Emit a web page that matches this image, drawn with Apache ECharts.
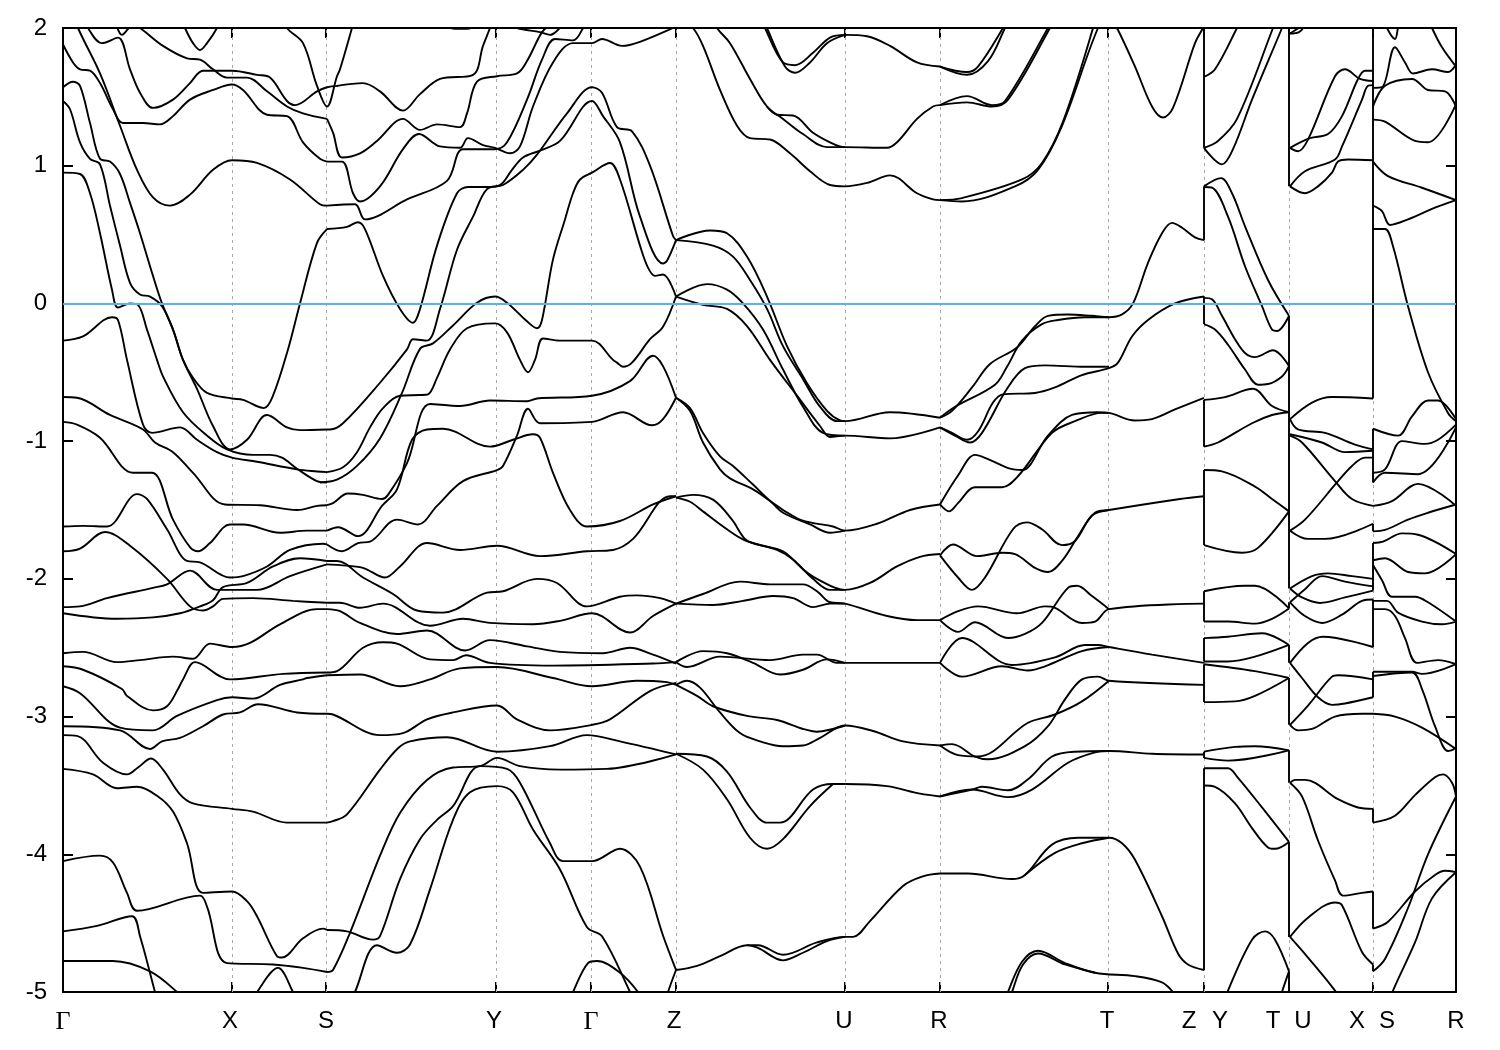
<!DOCTYPE html>
<html><head><meta charset="utf-8">
<style>html,body{margin:0;background:#fff}#c{width:1500px;height:1050px}</style>
<script src="https://cdn.jsdelivr.net/npm/echarts@6/dist/echarts.min.js"></script>
</head><body><div id="c"></div>
<script>
const tickK=[169,263,433,528,613,782,877,1045,1141,1226,1310];
const labelK=[0,167,263,431,528,611,781,876,1044,1126,1157,1210,1240,1294,1324,1393];
const labelText=['Γ','X','S','Y','Γ','Z','U','R','T','Z','Y','T','U','X','S','R'];
// Γ–X–S
const a1=[[0,1.88],[10,1.75],[17,1.70],[27,1.69],[37,1.60],[50,1.41],[60,1.31],[80,1.31],[97,1.30],[110,1.36],[127,1.48],[150,1.55],[169,1.59],[180,1.55],[204,1.37],[224,1.36],[240,1.17],[257,1.05],[264,1.03]];
const a2=[[20,2.1],[25,2.0],[39,1.89],[55,1.93],[67,1.70],[77,1.53],[90,1.42],[110,1.48],[127,1.60],[140,1.69],[169,1.69],[194,1.66],[207,1.64],[224,1.47],[232,1.44],[254,1.54],[264,1.57],[275,1.58]];
const a3=[[52,2.06],[59,1.95],[70,2.02],[77,2.0],[100,1.87],[124,1.78],[137,1.77],[150,1.70],[164,1.64],[184,1.64],[204,1.54],[224,1.43],[240,1.38],[264,1.34]];
const a4=[[118,2.08],[122,2.0],[130,1.89],[137,1.84],[144,1.89],[154,2.0],[158,2.08]];
const a5=[[219,2.1],[224,2.0],[240,1.89],[254,1.58],[264,1.43],[274,1.65],[277,1.70],[289,2.0],[292,2.08]];
const a6=[[8,2.15],[15,2.0],[37,1.67],[57,1.29],[74,.97],[90,.77],[107,.71],[127,.79],[150,.97],[169,1.04],[194,1.02],[227,.90],[257,.72],[264,.71]];
const a7=[[0,.95],[17,.94],[27,.80],[37,.51],[49,.10],[55,-.03],[67,.00],[75,-.01],[84,-.19],[94,-.41],[100,-.53],[120,-.79],[144,-.96],[164,-1.06],[190,-1.10],[207,-1.10],[219,-1.12],[234,-1.20],[254,-1.29],[264,-1.30]];
const a8=[[0,-.27],[20,-.24],[49,-.10],[55,-.12],[64,-.41],[80,-.88],[89,-.94],[117,-.90],[134,-.99],[154,-1.08],[169,-1.12],[194,-1.15],[234,-1.205],[254,-1.22],[264,-1.225]];
const a9=[[0,1.57],[10,1.61],[17,1.58],[27,1.31],[37,1.05],[47,1.03],[57,.94],[67,.73],[77,.51],[90,.20],[99,.00],[110,-.19],[120,-.41],[134,-.62],[150,-.89],[167,-1.06],[184,-.99],[204,-.81],[224,-.90],[237,-.92],[264,-.915]];
const a10=[[0,1.47],[7,1.41],[17,1.17],[27,1.05],[37,1.01],[47,.71],[57,.42],[67,.15],[77,.065],[87,.05],[99,-.02],[110,-.19],[120,-.41],[130,-.54],[144,-.65],[169,-.69],[180,-.70],[201,-.76],[210,-.67],[225,-.334],[237,0],[254,.44],[264,.54]];
const a11=[[0,-.68],[14,-.685],[47,-.81],[80,-.915],[92,-1.01],[110,-1.08],[130,-1.23],[162,-1.46],[197,-1.465],[234,-1.50],[254,-1.47],[264,-1.465]];
const a12=[[0,-.86],[14,-.88],[37,-.975],[70,-1.23],[89,-1.23],[110,-1.57],[127,-1.77],[135,-1.80],[147,-1.74],[167,-1.605],[180,-1.605],[217,-1.665],[244,-1.65],[264,-1.65]];
const a13=[[0,-1.62],[20,-1.615],[44,-1.62],[74,-1.385],[84,-1.42],[104,-1.64],[124,-1.87],[137,-1.88],[167,-1.99],[180,-1.98],[204,-1.91],[227,-1.79],[260,-1.745],[264,-1.75]];
const a14=[[0,-1.80],[17,-1.78],[42,-1.66],[67,-1.76],[104,-2.0],[127,-2.20],[140,-2.23],[150,-2.20],[160,-2.145],[190,-2.14],[230,-2.16],[264,-2.174]];
const a15=[[0,-2.205],[17,-2.20],[44,-2.14],[90,-2.065],[104,-2.04],[127,-1.94],[154,-2.08],[194,-2.08],[227,-1.98],[264,-1.895]];
const a16=[[0,-2.25],[54,-2.29],[90,-2.28],[117,-2.25],[137,-2.20],[150,-2.155],[160,-2.06],[184,-2.03],[210,-1.91],[237,-1.85],[264,-1.87]];
const a17=[[0,-2.54],[20,-2.53],[54,-2.605],[77,-2.59],[110,-2.565],[130,-2.58],[147,-2.47],[169,-2.495],[187,-2.465],[217,-2.33],[254,-2.22],[264,-2.22]];
const a18=[[0,-2.635],[20,-2.66],[59,-2.80],[64,-2.85],[90,-2.955],[104,-2.925],[115,-2.80],[120,-2.73],[132,-2.605],[167,-2.73],[220,-2.69],[264,-2.68]];
const a19=[[0,-2.78],[17,-2.83],[57,-3.08],[90,-3.10],[114,-2.995],[154,-2.88],[169,-2.86],[190,-2.87],[217,-2.77],[240,-2.73],[244,-2.72],[264,-2.70]];
const a20=[[0,-3.07],[57,-3.10],[87,-3.235],[99,-3.18],[117,-3.155],[140,-3.07],[160,-2.985],[177,-2.97],[195,-2.91],[234,-2.97],[264,-2.98]];
const a21=[[0,-3.135],[14,-3.14],[40,-3.335],[64,-3.42],[75,-3.37],[88,-3.305],[100,-3.385],[117,-3.565],[130,-3.63],[169,-3.67],[190,-3.69],[224,-3.77],[264,-3.77]];
const a22=[[0,-3.38],[30,-3.42],[54,-3.52],[74,-3.51],[95,-3.58],[110,-3.69],[124,-3.92],[140,-4.28],[169,-4.27],[184,-4.34],[194,-4.45],[214,-4.74],[219,-4.75],[240,-4.61],[260,-4.54],[264,-4.55]];
const a23=[[0,-4.05],[37,-4.01],[50,-4.06],[64,-4.28],[74,-4.41],[137,-4.30],[144,-4.38],[164,-4.79],[210,-4.80],[240,-4.825],[264,-4.855]];
const a24=[[0,-4.56],[34,-4.52],[69,-4.45],[77,-4.595],[92,-5.0],[94,-5.05]];
const a25=[[0,-4.775],[50,-4.775],[87,-4.85],[114,-5.0],[120,-5.06]];
const a26=[[191,-5.06],[194,-5.0],[215,-4.825],[230,-5.0],[233,-5.06]];
// S–Y–Γ–Z
const b1=[[264,1.03],[279,1.03],[290,.80],[297,.74],[317,.85],[340,1.12],[356,1.23],[377,1.14],[397,1.13],[405,1.20],[420,1.15],[432,1.13],[447,1.09],[457,1.14],[470,1.43],[490,1.75],[510,1.89],[529,1.89],[539,1.92],[559,1.87],[577,1.90],[610,2.00],[615,2.02],[622,2.03]];
const b2=[[274,1.58],[300,1.60],[317,1.54],[340,1.40],[357,1.52],[377,1.63],[410,1.66],[420,1.87],[427,2.00],[432,2.1]];
const b3=[[264,1.34],[270,1.24],[279,1.06],[297,1.09],[314,1.18],[340,1.34],[357,1.26],[374,1.30],[397,1.28],[404,1.38],[414,1.61],[434,1.65],[454,1.67],[464,1.76],[479,1.97],[487,2.02]];
const b4=[[450,2.03],[454,2.0],[477,1.97],[487,1.95],[497,2.0],[500,2.03]];
const b5=[[380,2.02],[392,1.995],[404,1.995],[416,2.02]];
const b6=[[264,.71],[292,.72],[302,.61],[344,.755],[384,.89],[400,1.12],[432,1.12],[444,1.17],[464,1.48],[479,1.77],[492,1.92],[510,1.91],[520,2.0],[524,2.08]];
const b7=[[257,-1.30],[274,-1.28],[294,-1.18],[317,-.98],[339,-.65],[357,-.33],[370,-.29],[390,-.16],[414,.005],[432,.05],[444,.005],[464,-.13],[474,-.18],[479,-.12],[490,.32],[502,.61],[510,.80],[517,.90],[529,.95],[547,1.02],[557,.90],[577,.42],[585,.26],[592,.20],[600,.21],[613,.05]];
const b8=[[264,-1.225],[280,-1.19],[294,-1.08],[307,-.90],[320,-.76],[337,-.67],[357,-.665],[365,-.66],[374,-.54],[387,-.334],[404,-.18],[432,-.145],[444,-.21],[457,-.41],[465,-.50],[472,-.41],[480,-.255],[497,-.27],[529,-.27],[550,-.41],[554,-.43],[560,-.46],[569,-.43],[587,-.26],[600,-.17],[613,.05]];
const b9=[[264,-.915],[267,-.915],[280,-.87],[317,-.576],[344,-.334],[350,-.26],[364,-.27],[377,-.04],[394,.39],[410,.63],[424,.83],[440,.86],[460,.97],[474,1.08],[504,1.38],[529,1.57],[539,1.53],[554,1.28],[569,1.25],[587,1.00],[610,.49],[613,.46]];
const b10=[[264,.54],[284,.556],[295,.59],[302,.54],[320,.20],[337,-.04],[350,-.14],[357,-.04],[374,.42],[394,.80],[405,.845],[424,.845],[437,.86],[449,.97],[460,1.06],[477,1.11],[497,1.18],[529,1.47],[540,1.36],[557,1.17],[577,.63],[600,.29],[604,.31],[613,.46]];
const b11=[[264,-1.465],[270,-1.45],[285,-1.38],[300,-1.39],[319,-1.42],[325,-1.39],[344,-1.16],[367,-.73],[397,-.745],[427,-.705],[464,-.71],[474,-.69],[529,-.67],[567,-.564],[590,-.38],[600,-.455],[613,-.685]];
const b12=[[264,-1.65],[275,-1.625],[295,-1.69],[319,-1.47],[334,-1.35],[349,-.99],[364,-.915],[380,-.91],[427,-1.04],[450,-.99],[470,-.95],[477,-.975],[490,-1.23],[507,-1.50],[524,-1.62],[557,-1.58],[590,-1.46],[613,-1.40]];
const b13=[[264,-1.75],[279,-1.80],[295,-1.74],[307,-1.73],[334,-1.57],[355,-1.605],[374,-1.47],[400,-1.29],[434,-1.21],[440,-1.18],[454,-.96],[465,-.765],[477,-.87],[529,-.86],[560,-.79],[589,-.885],[600,-.84],[613,-.685]];
const b14=[[264,-2.174],[277,-2.174],[297,-2.21],[320,-2.18],[367,-2.34],[400,-2.29],[427,-2.32],[470,-2.33],[497,-2.305],[529,-2.25],[567,-2.39],[590,-2.27],[613,-2.18]];
const b15=[[264,-1.895],[277,-1.90],[300,-1.92],[322,-1.99],[337,-1.91],[364,-1.74],[397,-1.79],[434,-1.76],[477,-1.835],[524,-1.80],[550,-1.79],[570,-1.71],[607,-1.40],[613,-1.40]];
const b16=[[264,-1.87],[274,-1.87],[300,-1.99],[330,-2.11],[354,-2.23],[380,-2.245],[424,-2.10],[440,-2.09],[474,-2.0],[494,-2.03],[524,-2.20],[557,-2.13],[574,-2.12],[597,-2.14],[613,-2.18]];
const b17=[[264,-2.22],[277,-2.235],[297,-2.32],[334,-2.40],[364,-2.375],[402,-2.52],[427,-2.445],[464,-2.49],[497,-2.53],[540,-2.54],[567,-2.50],[590,-2.55],[613,-2.615]];
const b18=[[264,-2.68],[274,-2.67],[300,-2.50],[320,-2.46],[334,-2.47],[367,-2.585],[390,-2.59],[403,-2.555],[427,-2.61],[490,-2.63],[590,-2.615],[613,-2.605]];
const b19=[[264,-2.70],[297,-2.695],[337,-2.78],[367,-2.73],[397,-2.65],[434,-2.64],[490,-2.72],[529,-2.78],[574,-2.74],[604,-2.75],[613,-2.77]];
const b20=[[264,-2.98],[270,-2.985],[317,-3.135],[340,-3.12],[364,-3.02],[390,-2.97],[434,-2.92],[454,-3.02],[487,-3.10],[529,-3.06],[547,-3.02],[587,-2.815],[613,-2.755]];
const b21=[[264,-3.77],[270,-3.76],[284,-3.71],[317,-3.385],[335,-3.23],[347,-3.18],[384,-3.15],[434,-3.255],[487,-3.215],[524,-3.135],[557,-3.18],[613,-3.275]];
const b22=[[264,-4.55],[284,-4.56],[310,-4.62],[317,-4.595],[337,-4.18],[357,-3.89],[374,-3.75],[390,-3.65],[417,-3.36],[444,-3.38],[457,-3.48],[487,-3.92],[500,-4.05],[529,-4.05],[557,-3.96],[577,-4.09],[600,-4.59],[613,-4.84]];
const b23=[[264,-4.855],[270,-4.84],[287,-4.57],[317,-4.01],[337,-3.70],[364,-3.46],[390,-3.37],[417,-3.36],[434,-3.30],[457,-3.36],[497,-3.385],[544,-3.38],[613,-3.275]];
const b24=[[289,-5.06],[292,-5.0],[314,-4.66],[334,-4.715],[347,-4.655],[367,-4.255],[390,-3.75],[407,-3.55],[434,-3.505],[450,-3.55],[470,-3.82],[497,-4.11],[524,-4.53],[539,-4.595],[567,-5.0],[570,-5.06]];
const b25=[[507,-5.06],[510,-5.0],[525,-4.79],[534,-4.775],[557,-4.86],[575,-5.0],[578,-5.06]];
const b26=[[603,-5.06],[605,-5.0],[613,-4.84]];
// Z–U–R
const c1=[[622,2.03],[630,2.00],[640,1.87],[657,1.55],[674,1.29],[687,1.20],[707,1.19],[727,1.09],[747,.96],[767,.86],[782,.85],[804,.875],[827,.93],[854,.80],[870,.755],[877,.75]];
const c2=[[650,2.08],[654,2.0],[667,1.89],[687,1.63],[704,1.43],[720,1.34],[740,1.23],[764,1.135],[782,1.135],[824,1.13],[834,1.17],[854,1.34],[870,1.43],[877,1.44]];
const c3=[[704,1.43],[714,1.37],[730,1.365],[750,1.24],[767,1.17],[777,1.14],[782,1.135]];
const c4=[[698,2.08],[702,2.0],[720,1.75],[732,1.73],[750,1.82],[767,1.93],[782,1.95],[804,1.94],[827,1.87],[854,1.75],[877,1.72]];
const c5=[[700,2.08],[704,2.0],[722,1.72],[732,1.675],[747,1.75],[764,1.89],[782,1.95]];
const c6=[[613,.46],[647,.53],[664,.51],[684,.34],[704,.05],[724,-.31],[744,-.58],[764,-.78],[777,-.85],[782,-.855],[827,-.79],[877,-.83]];
const c7=[[613,.46],[650,.42],[670,.34],[687,.17],[704,-.04],[720,-.31],[740,-.55],[757,-.75],[774,-.855],[782,-.855]];
const c8=[[613,.05],[644,.14],[664,.10],[680,.0],[700,-.19],[720,-.48],[740,-.75],[760,-.94],[782,-.96]];
const c9=[[613,.05],[640,-.01],[664,-.04],[684,-.165],[707,-.41],[734,-.67],[757,-.89],[767,-.97],[782,-.96],[827,-.98],[877,-.90]];
const c10=[[613,-.685],[627,-.76],[640,-.94],[657,-1.11],[670,-1.18],[690,-1.315],[710,-1.45],[734,-1.56],[747,-1.59],[770,-1.62],[782,-1.65],[814,-1.6],[847,-1.50],[877,-1.46]];
const c11=[[613,-.685],[627,-.78],[640,-1.01],[657,-1.205],[667,-1.27],[690,-1.35],[707,-1.435],[720,-1.52],[747,-1.605],[767,-1.665],[782,-1.65]];
const c12=[[613,-1.41],[630,-1.39],[650,-1.425],[669,-1.57],[682,-1.71],[694,-1.75],[720,-1.80],[740,-1.93],[754,-2.0],[782,-2.08],[807,-2.03],[834,-1.91],[857,-1.84],[877,-1.82]];
const c13=[[613,-1.41],[627,-1.44],[640,-1.51],[664,-1.64],[682,-1.72],[714,-1.79],[730,-1.86],[750,-2.0],[767,-2.08],[782,-2.08]];
const c14=[[613,-2.18],[640,-2.11],[677,-2.02],[707,-2.04],[740,-2.04],[754,-2.09],[767,-2.17],[782,-2.18],[824,-2.27],[854,-2.30],[877,-2.30]];
const c15=[[613,-2.18],[650,-2.19],[680,-2.16],[710,-2.125],[730,-2.14],[750,-2.205],[767,-2.18],[782,-2.18]];
const c16=[[613,-2.605],[624,-2.64],[657,-2.565],[707,-2.59],[740,-2.55],[754,-2.55],[774,-2.61],[782,-2.61],[877,-2.61]];
const c17=[[613,-2.605],[640,-2.525],[664,-2.54],[690,-2.61],[717,-2.695],[740,-2.66],[764,-2.585],[782,-2.61]];
const c18=[[613,-2.77],[624,-2.74],[637,-2.79],[657,-2.97],[677,-3.12],[697,-3.18],[720,-3.215],[740,-3.21],[757,-3.155],[782,-3.065],[810,-3.105],[840,-3.18],[877,-3.21]];
const c19=[[613,-2.77],[634,-2.85],[650,-2.925],[684,-2.995],[714,-3.025],[740,-3.09],[754,-3.11],[770,-3.09],[782,-3.065]];
const c20=[[613,-3.27],[644,-3.29],[664,-3.40],[687,-3.66],[704,-3.77],[717,-3.77],[750,-3.53],[770,-3.49],[782,-3.49],[824,-3.505],[857,-3.56],[877,-3.58]];
const c21=[[613,-3.27],[640,-3.385],[664,-3.60],[687,-3.88],[704,-3.96],[720,-3.89],[747,-3.65],[770,-3.49]];
const c22=[[613,-4.84],[634,-4.81],[657,-4.74],[684,-4.66],[695,-4.66],[720,-4.73],[754,-4.64],[782,-4.60],[790,-4.60],[807,-4.485],[840,-4.23],[860,-4.16],[877,-4.14]];
const c23=[[684,-4.66],[695,-4.68],[720,-4.77],[740,-4.715],[764,-4.63],[782,-4.60]];
// R–T–Z
const d1=[[877,.75],[899,.74],[952,.85],[975,.97],[999,1.29],[1035,2.0],[1046,2.09],[1054,2.0],[1072,1.72],[1089,1.43],[1100,1.35],[1110,1.42],[1132,1.89],[1140,2.0],[1144,2.06]];
const d2=[[877,.75],[899,.765],[959,.90],[979,1.02],[1000,1.32],[1030,2.0]];
const d3=[[877,1.44],[904,1.505],[929,1.44],[942,1.47],[985,2.0],[990,2.08]];
const d4=[[877,1.44],[904,1.46],[929,1.43],[945,1.48],[987,2.0],[992,2.08]];
const d5=[[877,1.72],[904,1.68],[915,1.72],[940,2.0],[945,2.08]];
const d6=[[877,1.72],[904,1.66],[925,1.76],[942,2.0],[947,2.08]];
const d7=[[877,-.83],[889,-.78],[909,-.61],[927,-.44],[954,-.32],[972,-.165],[985,-.09],[1005,-.08],[1029,-.09],[1046,-.10],[1059,-.08],[1070,0],[1085,.295],[1099,.51],[1109,.585],[1119,.55],[1132,.48],[1141,.46]];
const d8=[[877,-.83],[892,-.75],[932,-.59],[944,-.46],[959,-.27],[979,-.15],[995,-.12],[1022,-.10],[1046,-.10]];
const d9=[[877,-.90],[889,-.94],[904,-.99],[915,-.93],[930,-.72],[940,-.66],[972,-.65],[992,-.61],[1019,-.52],[1046,-.47],[1055,-.43],[1069,-.24],[1085,-.12],[1112,0],[1141,.05]];
const d10=[[877,-.90],[892,-.96],[907,-1.01],[919,-.94],[944,-.62],[962,-.47],[982,-.45],[1022,-.46],[1046,-.46]];
const d11=[[877,-1.46],[895,-1.25],[912,-1.10],[925,-1.13],[947,-1.20],[959,-1.21],[985,-.96],[1009,-.81],[1035,-.79],[1046,-.795],[1072,-.85],[1089,-.84],[1112,-.77],[1141,-.685]];
const d12=[[877,-1.46],[886,-1.51],[895,-1.45],[912,-1.335],[939,-1.335],[955,-1.255],[989,-.94],[1012,-.855],[1039,-.795],[1046,-.795]];
const d13=[[877,-1.83],[890,-1.75],[914,-1.835],[939,-1.81],[952,-1.82],[972,-1.92],[985,-1.95],[1000,-1.86],[1015,-1.69],[1032,-1.52],[1046,-1.50],[1117,-1.42],[1141,-1.40]];
const d14=[[877,-1.83],[895,-1.99],[909,-2.08],[922,-1.99],[950,-1.64],[964,-1.59],[979,-1.64],[999,-1.755],[1012,-1.725],[1029,-1.54],[1046,-1.50]];
const d15=[[877,-2.30],[895,-2.235],[915,-2.20],[954,-2.25],[982,-2.20],[992,-2.21],[1019,-2.32],[1032,-2.31],[1046,-2.22],[1141,-2.18]];
const d16=[[877,-2.30],[895,-2.385],[912,-2.315],[945,-2.43],[962,-2.40],[979,-2.32],[1005,-2.065],[1014,-2.05],[1029,-2.125],[1046,-2.22]];
const d17=[[877,-2.61],[899,-2.43],[949,-2.625],[992,-2.57],[1022,-2.48],[1035,-2.48],[1046,-2.495],[1089,-2.55],[1141,-2.61]];
const d18=[[877,-2.61],[899,-2.71],[939,-2.635],[965,-2.665],[982,-2.635],[1019,-2.525],[1046,-2.495]];
const d19=[[877,-3.21],[889,-3.20],[912,-3.29],[925,-3.31],[962,-3.215],[985,-3.07],[1002,-2.875],[1019,-2.73],[1035,-2.71],[1046,-2.74],[1141,-2.77]];
const d20=[[877,-3.21],[895,-3.28],[915,-3.29],[965,-3.045],[992,-2.985],[1019,-2.89],[1046,-2.74]];
const d21=[[877,-3.58],[909,-3.53],[919,-3.51],[945,-3.535],[965,-3.455],[989,-3.29],[1012,-3.255],[1046,-3.25],[1089,-3.27],[1141,-3.275]];
const d22=[[877,-3.58],[909,-3.53],[945,-3.585],[969,-3.53],[1005,-3.335],[1032,-3.26],[1046,-3.25]];
const d23=[[877,-4.14],[905,-4.14],[949,-4.18],[962,-4.15],[989,-3.93],[1015,-3.88],[1046,-3.88],[1059,-3.92],[1072,-4.04],[1099,-4.45],[1115,-4.72],[1125,-4.80],[1141,-4.84]];
const d24=[[962,-4.15],[992,-3.99],[1019,-3.92],[1046,-3.88]];
const d25=[[943,-5.06],[945,-5.0],[959,-4.78],[975,-4.70],[1002,-4.79],[1032,-4.86],[1072,-4.885],[1099,-4.93],[1110,-5.0],[1114,-5.05]];
const d26=[[947,-5.06],[949,-5.0],[960,-4.80],[975,-4.72],[1002,-4.80],[1032,-4.86]];
// Y–T
const e1=[[1141,1.645],[1152,1.70],[1174,2.0],[1177,2.05]];
const e2=[[1141,1.13],[1155,1.18],[1174,1.34],[1210,2.0],[1214,2.08]];
const e3=[[1141,1.13],[1159,1.01],[1170,1.12],[1189,1.48],[1219,2.0],[1223,2.08]];
const e4=[[1141,.845],[1149,.84],[1165,.63],[1182,.27],[1199,-.02],[1209,-.19],[1214,-.20],[1226,-.09]];
const e5=[[1141,.85],[1158,.91],[1169,.80],[1182,.56],[1205,.17],[1226,-.09]];
const e6=[[1141,.04],[1149,.03],[1159,-.09],[1172,-.26],[1182,-.36],[1192,-.39],[1210,-.34],[1226,-.455]];
const e7=[[1141,-.15],[1152,-.19],[1165,-.30],[1182,-.48],[1195,-.59],[1205,-.585],[1219,-.53],[1226,-.455]];
const e8=[[1141,-.70],[1162,-.68],[1190,-.62],[1209,-.745],[1226,-.79]];
const e9=[[1141,-1.04],[1155,-1.01],[1189,-.87],[1209,-.81],[1226,-.79]];
const e10=[[1141,-1.21],[1159,-1.22],[1192,-1.33],[1209,-1.42],[1226,-1.51]];
const e11=[[1141,-1.755],[1179,-1.81],[1195,-1.775],[1226,-1.51]];
const e12=[[1141,-2.09],[1182,-2.05],[1192,-2.05],[1226,-2.215]];
const e13=[[1141,-2.31],[1165,-2.31],[1192,-2.325],[1209,-2.29],[1226,-2.215]];
const e14=[[1141,-2.43],[1165,-2.42],[1199,-2.395],[1226,-2.48]];
const e15=[[1141,-2.60],[1165,-2.60],[1192,-2.565],[1226,-2.48]];
const e16=[[1141,-2.62],[1192,-2.67],[1226,-2.72]];
const e17=[[1141,-2.895],[1172,-2.89],[1192,-2.85],[1226,-2.72]];
const e18=[[1141,-3.255],[1172,-3.22],[1192,-3.215],[1226,-3.245]];
const e19=[[1141,-3.30],[1165,-3.32],[1226,-3.245]];
const e20=[[1141,-3.375],[1165,-3.375],[1175,-3.445],[1199,-3.66],[1226,-3.91]];
const e21=[[1141,-3.50],[1152,-3.51],[1172,-3.63],[1189,-3.81],[1205,-3.95],[1212,-3.96],[1226,-3.91]];
const e22=[[1163,-5.06],[1165,-4.99],[1189,-4.62],[1202,-4.56],[1212,-4.62],[1226,-4.85]];
const e23=[[1217,-5.06],[1219,-5.0],[1226,-4.85]];
// U–X
const f1=[[1227,1.96],[1240,2.02]];
const f2=[[1227,1.96],[1236,1.97],[1243,2.03]];
const f3=[[1227,1.13],[1235,1.105],[1245,1.19],[1272,1.65],[1282,1.70],[1297,1.63],[1310,1.615]];
const f4=[[1227,1.13],[1247,1.20],[1265,1.23],[1279,1.36],[1295,1.63],[1302,1.69],[1310,1.69]];
const f5=[[1227,.85],[1242,.96],[1272,1.045],[1279,1.14],[1299,1.48],[1305,1.58],[1310,1.585]];
const f6=[[1227,.85],[1242,.80],[1255,.85],[1269,.95],[1275,1.03],[1285,1.045],[1310,1.04]];
const f7=[[1227,-.84],[1249,-.72],[1269,-.68],[1310,-.69]];
const f8=[[1227,-.84],[1235,-.915],[1262,-.94],[1292,-1.025],[1310,-1.06]];
const f9=[[1227,-.95],[1259,-1.01],[1282,-1.08],[1310,-1.07]];
const f10=[[1227,-.96],[1239,-1.01],[1272,-1.29],[1289,-1.42],[1310,-1.47]];
const f11=[[1227,-1.65],[1242,-1.57],[1274,-1.30],[1289,-1.18],[1302,-1.12],[1310,-1.12]];
const f12=[[1227,-1.65],[1245,-1.71],[1262,-1.71],[1310,-1.60]];
const f13=[[1227,-2.07],[1249,-1.98],[1265,-1.96],[1289,-1.98],[1310,-2.0]];
const f14=[[1227,-2.07],[1239,-2.135],[1257,-2.175],[1282,-2.135],[1310,-2.085]];
const f15=[[1227,-2.17],[1242,-2.075],[1259,-1.98],[1282,-2.02],[1310,-2.055]];
const f16=[[1227,-2.17],[1242,-2.27],[1259,-2.32],[1279,-2.26],[1299,-2.16],[1310,-2.15]];
const f17=[[1227,-2.61],[1245,-2.465],[1260,-2.42],[1310,-2.495]];
const f18=[[1227,-2.61],[1239,-2.72],[1255,-2.86],[1269,-2.915],[1282,-2.905],[1310,-2.86]];
const f19=[[1227,-3.06],[1245,-2.92],[1269,-2.71],[1275,-2.70],[1310,-2.73]];
const f20=[[1227,-3.06],[1235,-3.10],[1249,-3.09],[1272,-3.0],[1299,-2.98],[1310,-2.98]];
const f21=[[1227,-3.48],[1232,-3.46],[1242,-3.46],[1275,-3.60],[1295,-3.66],[1310,-3.67]];
const f22=[[1227,-3.48],[1239,-3.58],[1255,-3.90],[1272,-4.19],[1280,-4.30],[1299,-4.28],[1310,-4.27]];
const f23=[[1227,-4.60],[1245,-4.46],[1272,-4.35],[1279,-4.37],[1299,-4.71],[1310,-4.80]];
const f24=[[1227,-4.60],[1245,-4.75],[1272,-4.99],[1276,-5.05]];
// S–R
const g1=[[1321,2.08],[1324,2.0],[1332,1.92],[1335,2.0],[1338,2.08]];
const g2=[[1310,1.565],[1319,1.57],[1332,1.86],[1342,1.75],[1350,1.67],[1369,1.70],[1385,1.68],[1393,1.735]];
const g3=[[1310,1.43],[1322,1.58],[1349,1.63],[1365,1.55],[1382,1.54],[1393,1.43]];
const g4=[[1310,1.335],[1322,1.32],[1352,1.18],[1365,1.17],[1393,1.445]];
const g5=[[1365,2.08],[1369,2.0],[1379,1.86],[1393,1.72]];
const g6=[[1310,1.03],[1325,.925],[1359,.84],[1393,.75]];
const g7=[[1310,.71],[1319,.67],[1327,.57],[1345,.61],[1372,.695],[1393,.75]];
const g8=[[1310,.54],[1322,.54],[1330,.415],[1345,-.02],[1365,-.50],[1385,-.795],[1393,-.855]];
const g9=[[1310,-.91],[1335,-.96],[1349,-.82],[1365,-.705],[1375,-.705],[1393,-.84]];
const g10=[[1310,-1.23],[1322,-1.205],[1339,-1.0],[1362,-1.02],[1375,-.99],[1393,-.88]];
const g11=[[1310,-1.30],[1322,-1.23],[1355,-1.24],[1393,-.90]];
const g12=[[1310,-1.47],[1329,-1.435],[1355,-1.31],[1393,-1.47]];
const g13=[[1310,-1.655],[1322,-1.645],[1345,-1.57],[1365,-1.52],[1393,-1.46]];
const g14=[[1310,-1.74],[1320,-1.73],[1339,-1.67],[1355,-1.68],[1393,-1.82]];
const g15=[[1310,-1.865],[1322,-1.85],[1345,-1.95],[1362,-1.96],[1393,-1.82]];
const g16=[[1310,-1.90],[1319,-2.01],[1329,-2.13],[1352,-2.13],[1365,-2.17],[1393,-2.31]];
const g17=[[1310,-2.16],[1324,-2.16],[1335,-2.245],[1359,-2.31],[1379,-2.33],[1393,-2.31]];
const g18=[[1310,-2.22],[1322,-2.22],[1332,-2.27],[1342,-2.43],[1354,-2.61],[1375,-2.59],[1393,-2.62]];
const g19=[[1310,-2.675],[1349,-2.675],[1359,-2.69],[1393,-2.62]];
const g20=[[1310,-2.705],[1349,-2.68],[1359,-2.80],[1372,-3.07],[1385,-3.25],[1390,-3.24],[1393,-3.22]];
const g21=[[1310,-2.98],[1332,-3.0],[1359,-3.08],[1393,-3.235]];
const g22=[[1310,-3.77],[1332,-3.72],[1352,-3.57],[1372,-3.44],[1380,-3.42],[1389,-3.48],[1393,-3.58]];
const g23=[[1310,-4.54],[1325,-4.49],[1352,-4.27],[1372,-4.15],[1382,-4.12],[1393,-4.13]];
const g24=[[1310,-4.85],[1322,-4.76],[1345,-4.39],[1365,-4.0],[1393,-3.58]];
const g25=[[1328,-5.05],[1330,-4.99],[1352,-4.64],[1369,-4.32],[1393,-4.13]];
// the jumps between disconnected path pieces: [k, energy from, energy to]
const jumps=[
 [1141,2.1,1.13],[1141,.85,.46],[1141,.05,-.15],[1141,-.70,-1.04],[1141,-1.21,-1.755],[1141,-2.09,-2.31],[1141,-2.43,-2.60],[1141,-2.62,-2.895],[1141,-3.255,-3.30],[1141,-3.375,-4.84],
 [1226,2.1,.85],[1226,-.09,-2.07],[1226,-2.17,-2.215],[1226,-2.48,-2.61],[1226,-2.72,-3.06],[1226,-3.245,-3.48],[1226,-3.91,-4.60],[1226,-4.85,-5],
 [1310,2.1,-.69],[1310,-.91,-1.30],[1310,-1.60,-1.655],[1310,-1.74,-2.085],[1310,-2.15,-2.495],[1310,-2.675,-2.86],[1310,-3.67,-3.77],[1310,-4.27,-4.54],[1310,-4.80,-4.85]];
const traces=[a1,a2,a3,a4,a5,a6,a7,a8,a9,a10,a11,a12,a13,a14,a15,a16,a17,a18,a19,a20,a21,a22,a23,a24,a25,a26,
 b1,b2,b3,b4,b5,b6,b7,b8,b9,b10,b11,b12,b13,b14,b15,b16,b17,b18,b19,b20,b21,b22,b23,b24,b25,b26,
 c1,c2,c3,c4,c5,c6,c7,c8,c9,c10,c11,c12,c13,c14,c15,c16,c17,c18,c19,c20,c21,c22,c23,
 d1,d2,d3,d4,d5,d6,d7,d8,d9,d10,d11,d12,d13,d14,d15,d16,d17,d18,d19,d20,d21,d22,d23,d24,d25,d26,
 e1,e2,e3,e4,e5,e6,e7,e8,e9,e10,e11,e12,e13,e14,e15,e16,e17,e18,e19,e20,e21,e22,e23,
 f1,f2,f3,f4,f5,f6,f7,f8,f9,f10,f11,f12,f13,f14,f15,f16,f17,f18,f19,f20,f21,f22,f23,f24,
 g1,g2,g3,g4,g5,g6,g7,g8,g9,g10,g11,g12,g13,g14,g15,g16,g17,g18,g19,g20,g21,g22,g23,g24,g25];

const chart=echarts.init(document.getElementById('c'),null,{renderer:'canvas'});
const lineStyle={color:'#000',width:1.9};
const series=[];
series.push({type:'line',data:[],silent:true,z:1,markLine:{z:1,silent:true,symbol:'none',animation:false,label:{show:false},
  lineStyle:{color:'#a8a8a8',type:[3,4],width:1},data:tickK.map(k=>({xAxis:k}))}});
traces.forEach(t=>series.push({type:'line',data:t,showSymbol:false,smooth:0.35,lineStyle,silent:true,z:3,clip:true}));
jumps.forEach(j=>series.push({type:'line',data:[[j[0],j[1]],[j[0],j[2]]],showSymbol:false,lineStyle,silent:true,z:3,clip:true}));
series.push({type:'line',data:[],silent:true,z:5,markLine:{z:6,silent:true,symbol:'none',animation:false,label:{show:false},
  lineStyle:{color:'#56b4e9',type:'solid',width:2},data:[{yAxis:0}]}});
const tick={show:true,inside:true,length:10,lineStyle:{color:'#000',width:2}};
const axisLine={show:true,onZero:false,lineStyle:{color:'#000',width:2}};
const fmt=v=>{const i=labelK.indexOf(v);const t=i<0?'':labelText[i];return t==='Γ'?'{g|Γ}':t;};
chart.setOption({animation:false,backgroundColor:'#fff',
 grid:{left:63,top:28,width:1393,height:964,containLabel:false},
 xAxis:[
  {type:'value',position:'bottom',min:0,max:1393,splitLine:{show:false},axisLine,
   axisTick:{...tick,customValues:tickK},
   axisLabel:{customValues:labelK,formatter:fmt,color:'#000',fontFamily:'Liberation Sans',fontSize:24,margin:17,showMinLabel:true,showMaxLabel:true,hideOverlap:false,
     rich:{g:{fontFamily:'Liberation Serif',fontSize:26,color:'#000'}}}},
  {type:'value',position:'top',min:0,max:1393,splitLine:{show:false},axisLine,
   axisTick:{...tick,customValues:tickK},axisLabel:{show:false}}],
 yAxis:[
  {type:'value',min:-5,max:2,interval:1,position:'left',splitLine:{show:false},axisLine,axisTick:tick,
   axisLabel:{color:'#000',fontFamily:'Liberation Sans',fontSize:24,margin:16}},
  {type:'value',min:-5,max:2,interval:1,position:'right',splitLine:{show:false},axisLine,axisTick:tick,axisLabel:{show:false}}],
 series});
</script></body></html>
